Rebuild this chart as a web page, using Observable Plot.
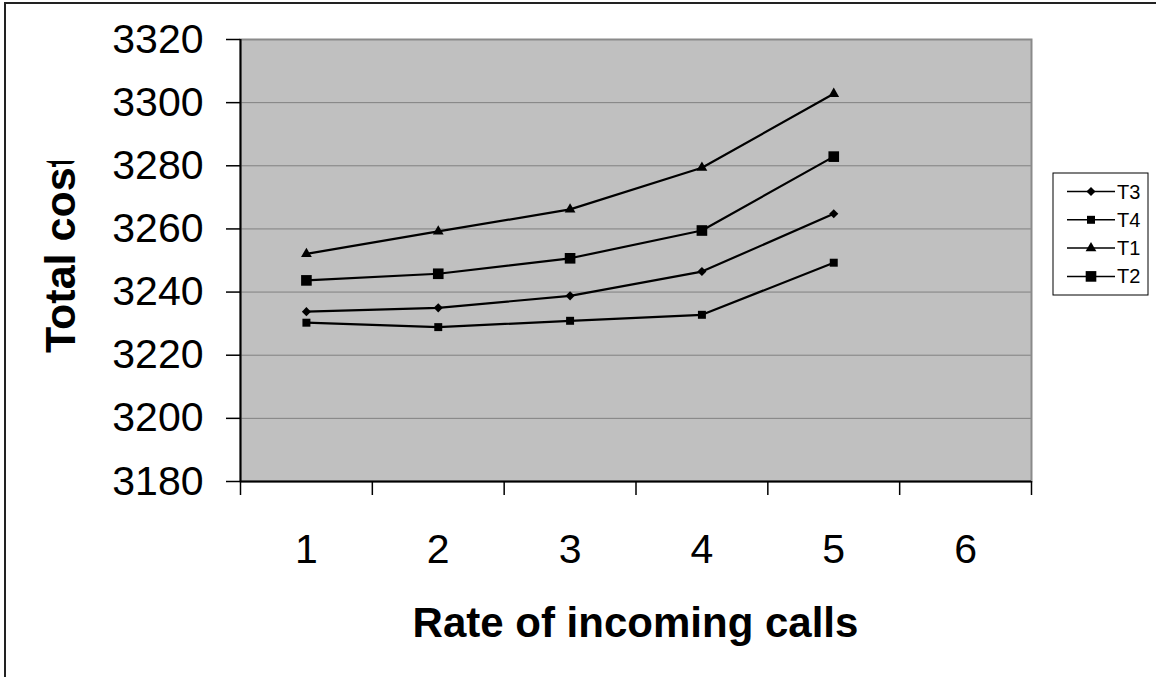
<!DOCTYPE html>
<html><head><meta charset="utf-8">
<script src="https://cdn.jsdelivr.net/npm/d3@7"></script>
<script src="https://cdn.jsdelivr.net/npm/@observablehq/plot@0.6"></script>
<style>body{margin:0;background:#fff;} #chart{position:relative;width:1156px;height:677px;overflow:hidden;}</style>
</head><body><div id="chart"></div>
<script>
// ---- data ----
const rates = [1, 2, 3, 4, 5];
const categories = [1, 2, 3, 4, 5, 6];
const categoryLabels = ["1", "2", "3", "4", "5", "6"];
const seriesNames = ["T3", "T4", "T1", "T2"];
const T1 = [3252.1, 3259.2, 3266.2, 3279.4, 3302.8];
const T2 = [3243.7, 3245.8, 3250.7, 3259.5, 3282.9];
const T3 = [3233.8, 3235.0, 3238.8, 3246.5, 3264.8];
const T4 = [3230.3, 3228.9, 3230.9, 3232.8, 3249.3];
const yTicks = [3180, 3200, 3220, 3240, 3260, 3280, 3300, 3320];
const xTitle = "Rate of incoming calls";
const yTitle = "Total cost";

const seriesValues = {T3, T4, T1, T2};
const symbols = {T3: "diamond2", T4: "square", T1: "triangle", T2: "square"};
const d3Symbols = {T3: d3.symbolDiamond2, T4: d3.symbolSquare, T1: d3.symbolTriangle, T2: d3.symbolSquare};
const radii = {T3: 4.1, T4: 4.5, T1: 4.0, T2: 6.0};
const data = seriesNames.flatMap(s => rates.map((r, i) => ({series: s, rate: r, value: seriesValues[s][i]})));
const boundaries = d3.range(categories.length + 1).map(i => categories[0] - 0.5 + i);

const FONT = "'Liberation Sans', Arial, Helvetica, sans-serif";

const plot = Plot.plot({
  width: 1156, height: 677,
  marginLeft: 240, marginRight: 125, marginTop: 39, marginBottom: 196,
  style: {fontFamily: FONT, fontSize: "41px", background: "transparent", color: "#000", overflow: "visible"},
  x: {type: "linear", domain: [boundaries[0], boundaries[boundaries.length - 1]]},
  y: {domain: [yTicks[0], yTicks[yTicks.length - 1]]},
  marks: [
    Plot.frame({fill: "#C0C0C0"}),
    Plot.gridY(yTicks, {stroke: "#808080", strokeOpacity: 1, strokeWidth: 1}),
    Plot.frame({stroke: "#8a8a8a", strokeWidth: 2}),
    Plot.axisY(yTicks, {tickSize: 14, tickPadding: 23, label: null, tickFormat: d => String(d), fontSize: 41, strokeWidth: 1.5}),
    Plot.axisX(boundaries, {tickSize: 14, tickFormat: () => "", label: null, strokeWidth: 1.5}),
    Plot.axisX(categories, {tickSize: 0, tickPadding: 52, tickFormat: d => categoryLabels[categories.indexOf(d)], label: null, fontSize: 41}),
    Plot.ruleX([boundaries[0]], {stroke: "#000", strokeWidth: 2}),
    Plot.ruleY([yTicks[0]], {stroke: "#000", strokeWidth: 2}),
    Plot.line(data, {x: "rate", y: "value", z: "series", stroke: "#000", strokeWidth: 2.2}),
    ...seriesNames.map(s => Plot.dot(data.filter(d => d.series === s), {
      x: "rate", y: "value", symbol: symbols[s], r: radii[s], fill: "#000", stroke: "none"
    }))
  ]
});

document.getElementById("chart").appendChild(plot);
const svg = d3.select(plot);

// outer border (chart area edge)
svg.append("rect").attr("x", 5).attr("y", 3).attr("width", 1400).attr("height", 900)
  .attr("fill", "none").attr("stroke", "#222").attr("stroke-width", 2);

// x title
svg.append("text").attr("x", 635.5).attr("y", 637).attr("text-anchor", "middle")
  .attr("font-family", FONT).attr("font-weight", "bold").attr("font-size", 42).attr("fill", "#000")
  .text(xTitle);

// y title (clipped at top as in the original)
const defs = svg.append("defs");
defs.append("clipPath").attr("id", "ytclip").append("rect")
  .attr("x", 0).attr("y", 161).attr("width", 200).attr("height", 516);
svg.append("g").attr("clip-path", "url(#ytclip)")
  .append("text").attr("transform", "translate(75,353) rotate(-90)").attr("text-anchor", "start")
  .attr("font-family", FONT).attr("font-weight", "bold").attr("font-size", 43).attr("fill", "#000")
  .text(yTitle);

// legend
const lg = svg.append("g");
lg.append("rect").attr("x", 1053).attr("y", 173).attr("width", 95).attr("height", 122)
  .attr("fill", "#fff").attr("stroke", "#000").attr("stroke-width", 1);
const rowY = [191.5, 219.8, 248.1, 276.4];
seriesNames.forEach((s, i) => {
  const y = rowY[i];
  lg.append("line").attr("x1", 1067).attr("x2", 1115).attr("y1", y).attr("y2", y)
    .attr("stroke", "#000").attr("stroke-width", 1.5);
  lg.append("path").attr("transform", `translate(1091,${y})`)
    .attr("d", d3.symbol(d3Symbols[s], Math.PI * radii[s] * radii[s])())
    .attr("fill", "#000");
  lg.append("text").attr("x", 1117).attr("y", y).attr("dy", "0.35em").attr("text-anchor", "start")
    .attr("font-family", FONT).attr("font-size", 20).attr("fill", "#000").text(s);
});
</script>
</body></html>
